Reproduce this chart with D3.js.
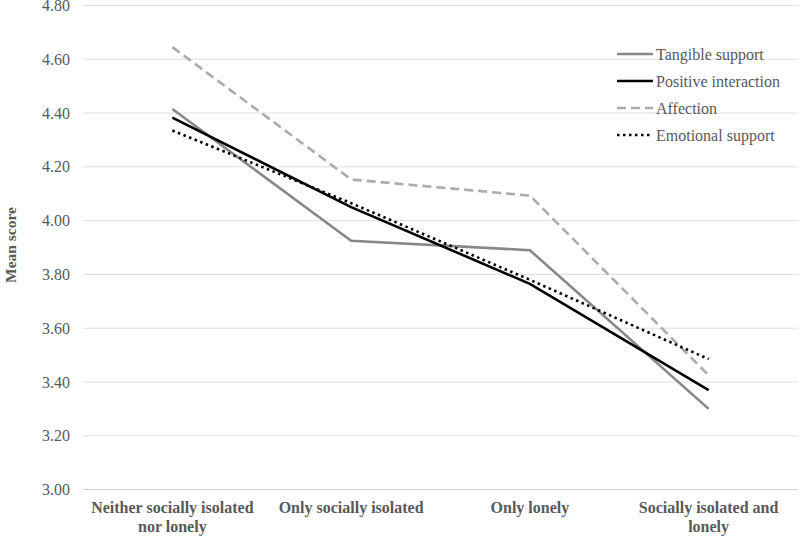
<!DOCTYPE html>
<html><head><meta charset="utf-8">
<script src="https://cdn.jsdelivr.net/npm/d3@7"></script>
<style>body{margin:0;background:#fff;} svg{display:block;} text{font-family:"Liberation Serif","Times New Roman","DejaVu Serif",serif;}</style>
</head><body>
<svg id="c" width="800" height="536"></svg>
<script>
const categories = [["Neither socially isolated","nor lonely"],["Only socially isolated"],["Only lonely"],["Socially isolated and","lonely"]];
const seriesNames = ["Tangible support","Positive interaction","Affection","Emotional support"];
const tangible = [4.415, 3.925, 3.89, 3.30];
const positive = [4.383, 4.05, 3.765, 3.37];
const affection = [4.645, 4.153, 4.093, 3.425];
const emotional = [4.335, 4.065, 3.78, 3.485];
const yTicks = [3.0,3.2,3.4,3.6,3.8,4.0,4.2,4.4,4.6,4.8];

const styles = [
  {color:"#878787", width:2.6, dash:null, cap:"butt"},
  {color:"#000000", width:2.6, dash:null, cap:"butt"},
  {color:"#ababab", width:2.6, dash:"9,5", cap:"butt"},
  {color:"#000000", width:2.6, dash:"2.5,3.5", cap:"butt"}
];
const data = [tangible, positive, affection, emotional];

const svg = d3.select("#c");
const pLeft = 83, pRight = 798, pTop = 5.4, pBottom = 489.6;
const x = d3.scalePoint().domain(d3.range(categories.length)).range([pLeft, pRight]).padding(0.5);
const y = d3.scaleLinear().domain([3.0, 4.8]).range([pBottom, pTop]);

// gridlines
svg.append("g").selectAll("line").data(yTicks).join("line")
  .attr("x1", pLeft).attr("x2", pRight)
  .attr("y1", d=>y(d)).attr("y2", d=>y(d))
  .attr("stroke", d=> d===3.0 ? "#d0d0d0" : "#dedede").attr("stroke-width", 1);

// y tick labels
svg.append("g").selectAll("text").data(yTicks).join("text")
  .attr("x", 70).attr("y", d=>y(d)).attr("dy","0.35em")
  .attr("text-anchor","end")
  .attr("font-size",16)
  .attr("fill","#595959").text(d=>d.toFixed(2));

// y title
svg.append("text").attr("transform",`translate(16,245) rotate(-90)`)
  .attr("text-anchor","middle")
  .attr("font-weight","bold").attr("font-size",15.5).attr("fill","#595959").text("Mean score");

// category labels
const cat = svg.append("g").selectAll("text").data(categories).join("text")
  .attr("x", (d,i)=>x(i)).attr("y", 513)
  .attr("text-anchor","middle")
  .attr("font-weight","bold").attr("font-size",16).attr("fill","#595959");
cat.each(function(d,i){
  const t = d3.select(this);
  d.forEach((line,j)=>{
    t.append("tspan").attr("x", x(i)).attr("dy", j===0?0:19).text(line);
  });
});

// lines
const lineGen = d3.line().x((d,i)=>x(i)).y(d=>y(d));
svg.append("g").selectAll("path").data(data).join("path")
  .attr("d", d=>lineGen(d)).attr("fill","none")
  .attr("stroke",(d,i)=>styles[i].color).attr("stroke-width",(d,i)=>styles[i].width)
  .attr("stroke-dasharray",(d,i)=>styles[i].dash)
  .attr("stroke-linecap",(d,i)=>styles[i].cap)
  .attr("stroke-linejoin","miter");

// legend
const lg = svg.append("g");
seriesNames.forEach((n,i)=>{
  const yy = 54 + i*27;
  lg.append("line").attr("x1",617).attr("x2",653).attr("y1",yy).attr("y2",yy)
    .attr("stroke",styles[i].color).attr("stroke-width",styles[i].width)
    .attr("stroke-dasharray",styles[i].dash);
  lg.append("text").attr("x",656).attr("y",yy).attr("dy","0.35em")
    .attr("font-size",16)
    .attr("fill","#595959").text(n);
});
</script>
</body></html>
